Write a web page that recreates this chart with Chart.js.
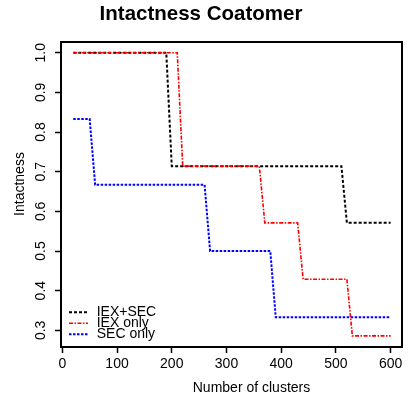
<!DOCTYPE html>
<html>
<head>
<meta charset="utf-8">
<script src="https://cdn.jsdelivr.net/npm/chart.js@4/dist/chart.umd.min.js"></script>
<style>
  html, body { margin: 0; padding: 0; background: #fff; }
  canvas { display: block; }
</style>
</head>
<body>
<canvas id="intactChart" width="409" height="402"></canvas>
<script>
// values
var seriesNames = ["IEX+SEC", "IEX only", "SEC only"];
var seriesColors = ["#000000", "#ff0000", "#0000ff"];

var iexSecX = [20, 190, 200, 510, 520, 600];
var iexSecY = [1.0, 1.0, 0.714, 0.714, 0.571, 0.571];

var iexOnlyX = [20, 210, 220, 360, 370, 430, 440, 520, 530, 600];
var iexOnlyY = [1.0, 1.0, 0.714, 0.714, 0.571, 0.571, 0.429, 0.429, 0.286, 0.286];

var secOnlyX = [20, 50, 60, 260, 270, 380, 390, 600];
var secOnlyY = [0.833, 0.833, 0.667, 0.667, 0.5, 0.5, 0.333, 0.333];

var xTicks = [0, 100, 200, 300, 400, 500, 600];
var yTicks = [0.3, 0.4, 0.5, 0.6, 0.7, 0.8, 0.9, 1.0];

function toPoints(xs, ys) {
    return xs.map(function(x, i) { return { x: x, y: ys[i] }; });
}

var FONT = "'Liberation Sans', Arial, sans-serif";

// box, axis titles and R-style legend
var rDecor = {
    id: 'rDecor',
    afterDraw: function(chart) {
        var ctx = chart.ctx;
        var a = chart.chartArea;
        ctx.save();
        ctx.strokeStyle = '#000';
        ctx.lineWidth = 2;
        ctx.strokeRect(a.left, a.top, a.right - a.left, a.bottom - a.top);

        ctx.fillStyle = '#000';
        ctx.font = '14px ' + FONT;
        ctx.textAlign = 'center';
        ctx.textBaseline = 'alphabetic';
        ctx.fillText('Number of clusters', (a.left + a.right) / 2 + 20, a.bottom + 45);

        ctx.save();
        ctx.translate(a.left - 37, (a.top + a.bottom) / 2 - 10.5);
        ctx.rotate(-Math.PI / 2);
        ctx.fillText('Intactness', 0, 0);
        ctx.restore();

        // legend
        ctx.textAlign = 'left';
        chart.data.datasets.forEach(function(ds, i) {
            var ly = a.bottom - 34.7 + 11 * i;
            ctx.save();
            ctx.strokeStyle = ds.borderColor;
            ctx.lineWidth = ds.borderWidth;
            ctx.setLineDash(ds.borderDash);
            ctx.beginPath();
            ctx.moveTo(a.left + 8, ly);
            ctx.lineTo(a.left + 27, ly);
            ctx.stroke();
            ctx.restore();
            ctx.fillText(ds.label, a.left + 35.7, a.bottom - 31.3 + 11.3 * i);
        });
        ctx.restore();
    }
};

var chart = new Chart(document.getElementById('intactChart'), {
    type: 'line',
    data: {
        datasets: [{
            label: seriesNames[0],
            data: toPoints(iexSecX, iexSecY),
            borderColor: seriesColors[0],
            borderWidth: 2,
            borderDash: [3, 2],
            order: 3
        }, {
            label: seriesNames[1],
            data: toPoints(iexOnlyX, iexOnlyY),
            borderColor: seriesColors[1],
            borderWidth: 1.6,
            borderDash: [4, 1.5, 1.5, 1.5],
            order: 2
        }, {
            label: seriesNames[2],
            data: toPoints(secOnlyX, secOnlyY),
            borderColor: seriesColors[2],
            borderWidth: 2,
            borderDash: [2.5, 1.5],
            order: 1
        }]
    },
    options: {
        responsive: false,
        animation: false,
        layout: { padding: { left: 0, right: 7, top: 0, bottom: 0 } },
        elements: { point: { radius: 0 }, line: { tension: 0, fill: false } },
        plugins: {
            legend: { display: false },
            tooltip: { enabled: false },
            title: {
                display: true,
                text: 'Intactness Coatomer',
                color: '#000',
                font: { family: FONT, size: 20.5, weight: 'bold', lineHeight: 1.2 },
                padding: { top: 2, bottom: 15.4 }
            }
        },
        scales: {
            x: {
                type: 'linear',
                min: -2.4,
                max: 620.7,
                afterBuildTicks: function(scale) {
                    scale.ticks = xTicks.map(function(v) { return { value: v }; });
                },
                afterFit: function(scale) { scale.height = 55; },
                border: { display: false },
                grid: { drawOnChartArea: false, drawTicks: true, tickLength: 6, tickColor: '#000', tickWidth: 1.5 },
                ticks: {
                    color: '#000',
                    padding: 3,
                    maxRotation: 0,
                    font: { family: FONT, size: 14 },
                    callback: function(v) { return String(v); }
                }
            },
            y: {
                type: 'linear',
                min: 0.258,
                max: 1.027,
                afterBuildTicks: function(scale) {
                    scale.ticks = yTicks.map(function(v) { return { value: v }; });
                },
                afterFit: function(scale) { scale.width = 61; },
                border: { display: false },
                grid: { drawOnChartArea: false, drawTicks: true, tickLength: 6, tickColor: '#000', tickWidth: 1.5 },
                ticks: {
                    color: '#000',
                    padding: 4,
                    minRotation: 90,
                    maxRotation: 90,
                    crossAlign: 'center',
                    font: { family: FONT, size: 14 },
                    callback: function(v) { return Number(v).toFixed(1); }
                }
            }
        }
    },
    plugins: [rDecor]
});
</script>
</body>
</html>
